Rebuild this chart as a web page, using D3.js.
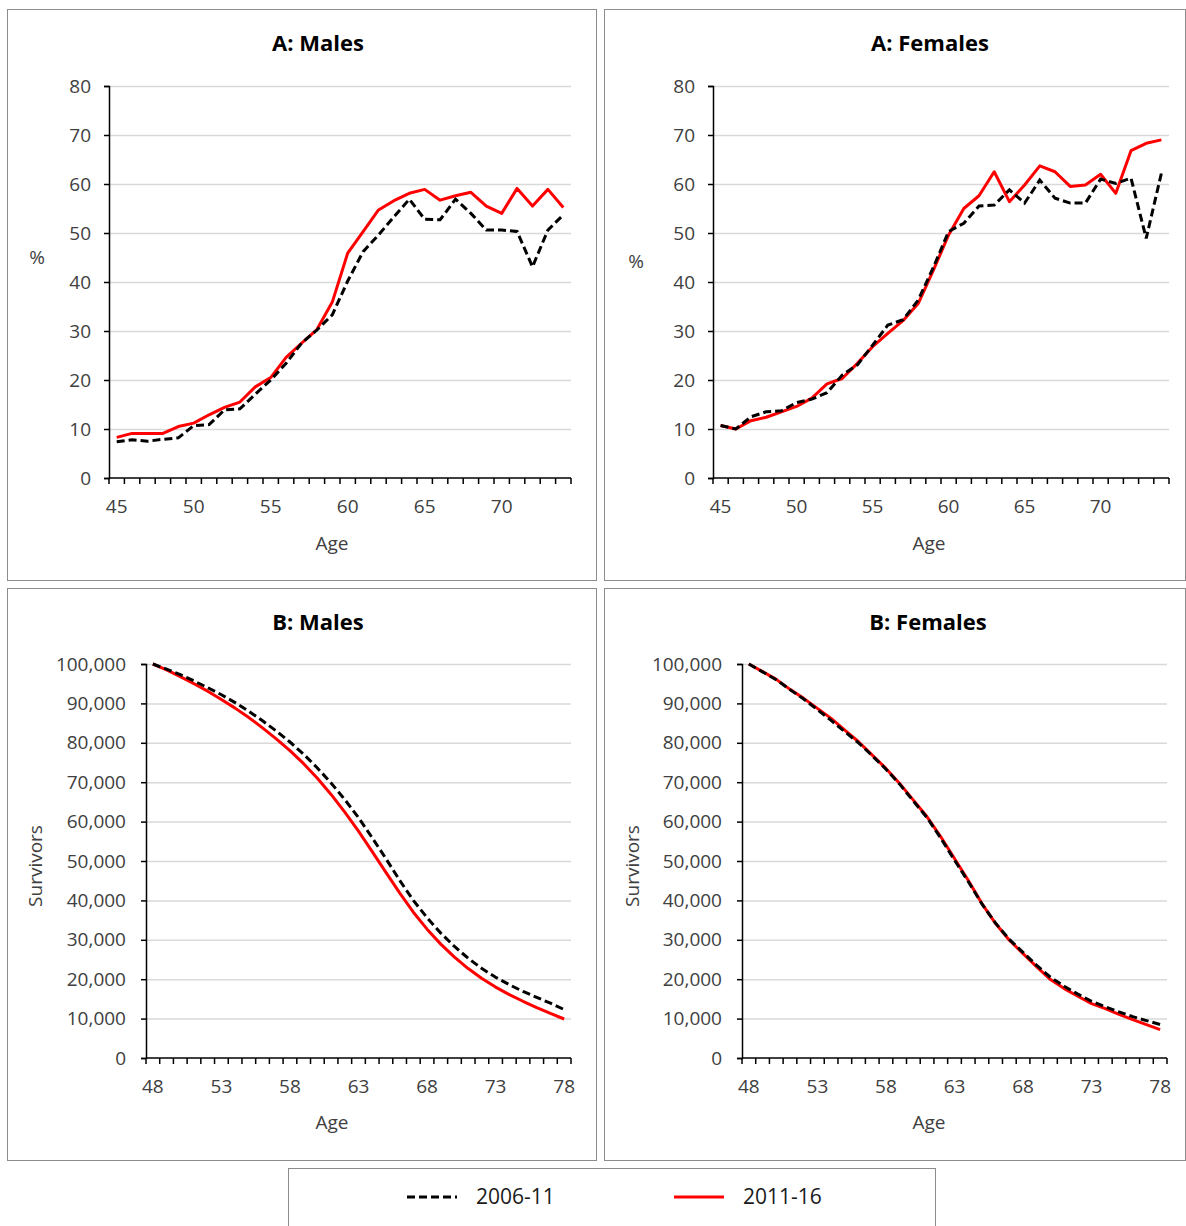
<!DOCTYPE html>
<html>
<head>
<meta charset="utf-8">
<script src="https://cdn.jsdelivr.net/npm/d3@7"></script>
<style>
  body { margin: 0; background: #fff; }
  svg { display: block; font-family: "Open Sans", sans-serif; }
</style>
</head>
<body>
<svg id="chart" width="1186" height="1226"></svg>
<script>
// categories
var agesA = [45,46,47,48,49,50,51,52,53,54,55,56,57,58,59,60,61,62,63,64,65,66,67,68,69,70,71,72,73,74];
var agesB = [48,49,50,51,52,53,54,55,56,57,58,59,60,61,62,63,64,65,66,67,68,69,70,71,72,73,74,75,76,77,78];
var labelsA = [45,50,55,60,65,70];
var labelsB = [48,53,58,63,68,73,78];
var ticksA = [0,10,20,30,40,50,60,70,80];
var ticksB = [0,10000,20000,30000,40000,50000,60000,70000,80000,90000,100000];

// panel A: %
var malesA0611 = [7.4,7.8,7.5,7.9,8.2,10.7,10.9,13.9,14.1,17.1,20.0,23.4,27.5,30.2,33.3,40.2,46.2,49.6,53.3,56.9,52.8,52.7,56.9,54.0,50.6,50.6,50.3,43.1,50.6,53.7];
var malesA1116 = [8.3,9.1,9.1,9.1,10.5,11.2,12.9,14.4,15.5,18.6,20.5,24.6,27.5,30.3,35.9,45.9,50.3,54.7,56.6,58.1,58.9,56.7,57.6,58.3,55.5,54.0,59.1,55.5,58.9,55.2];
var femalesA0611 = [10.7,10.0,12.5,13.5,13.7,15.4,16.1,17.4,21.0,23.1,27.1,31.2,32.3,36.3,43.0,50.3,52.0,55.5,55.7,58.8,56.1,60.8,57.1,56.1,56.1,61.0,60.1,61.2,48.9,62.2];
var femalesA1116 = [10.7,10.0,11.7,12.4,13.5,14.6,16.3,19.2,20.3,23.4,26.8,29.5,32.1,35.6,42.4,49.6,55.0,57.6,62.5,56.4,59.8,63.7,62.5,59.5,59.8,62.0,58.1,66.8,68.3,69.0];

// panel B: survivors
var malesB0611 = [100000,98700,97300,95700,94000,92200,90200,88000,85600,83000,80200,77100,73600,69800,65600,61000,55900,50600,45100,40000,35600,31700,28300,25300,22700,20500,18600,16900,15400,13900,12300];
var malesB1116 = [100000,98500,96800,95000,93100,91000,88800,86400,83800,81000,78000,74700,71000,66900,62400,57600,52400,47100,41900,37000,32700,28900,25600,22700,20200,18000,16100,14400,12800,11300,9900];
var femalesB0611 = [100000,98000,96000,93500,91100,88400,85700,82800,80000,76700,73300,69500,65200,61000,55800,50200,44800,39100,34200,30100,26800,23500,20500,18200,16200,14400,13000,11700,10500,9500,8500];
var femalesB1116 = [100000,98050,96100,93560,91280,88740,86200,83230,80270,76880,73500,69690,65450,61220,56140,50630,45130,39200,34120,29890,26500,23120,19900,17610,15660,13800,12530,11090,9740,8470,7200];

var seriesNames = ["2006-11", "2011-16"];

var svg = d3.select("#chart");
var textColor = "#404040";

var panels = [
  { box: [7, 9, 589, 571], x0: 109, x1: 571, yb: 478, yt: 86, cats: agesA, labels: labelsA, ticks: ticksA,
    a: malesA0611, b: malesA1116, fmt: d3.format("d"), title: "A: Males", ylab: "%", rot: false,
    tx: 318, ty: 43, lx: 37, ly: 257, ax: 332, ay: 543, pad: 13 },
  { box: [604, 9, 581, 571], x0: 713, x1: 1169, yb: 478, yt: 86, cats: agesA, labels: labelsA, ticks: ticksA,
    a: femalesA0611, b: femalesA1116, fmt: d3.format("d"), title: "A: Females", ylab: "%", rot: false,
    tx: 930, ty: 43, lx: 636, ly: 261, ax: 929, ay: 543, pad: 13 },
  { box: [7, 588, 589, 572], x0: 146, x1: 571, yb: 1058, yt: 664, cats: agesB, labels: labelsB, ticks: ticksB,
    a: malesB0611, b: malesB1116, fmt: d3.format(","), title: "B: Males", ylab: "Survivors", rot: true,
    tx: 318, ty: 622, lx: 35, ly: 866, ax: 332, ay: 1122, pad: 15 },
  { box: [604, 588, 581, 572], x0: 742, x1: 1167, yb: 1058, yt: 664, cats: agesB, labels: labelsB, ticks: ticksB,
    a: femalesB0611, b: femalesB1116, fmt: d3.format(","), title: "B: Females", ylab: "Survivors", rot: true,
    tx: 928, ty: 622, lx: 632, ly: 866, ax: 929, ay: 1122, pad: 15 }
];

panels.forEach(function(p) {
  var g = svg.append("g");

  g.append("rect")
    .attr("x", p.box[0] + 0.5).attr("y", p.box[1] + 0.5)
    .attr("width", p.box[2]).attr("height", p.box[3])
    .attr("fill", "#fff").attr("stroke", "#8c8c8c");

  var x = d3.scaleBand().domain(p.cats).range([p.x0, p.x1]);
  var y = d3.scaleLinear()
    .domain([0, d3.max(p.ticks)])
    .range([p.yb, p.yt]);

  // gridlines
  g.append("g")
    .attr("transform", "translate(" + p.x0 + ",0)")
    .call(d3.axisLeft(y).tickValues(p.ticks.slice(1)).tickSize(-(p.x1 - p.x0)).tickFormat(""))
    .call(function(s) { s.select(".domain").remove(); })
    .selectAll("line").attr("stroke", "#d9d9d9").attr("stroke-width", 1.5);

  // y axis
  var yAxis = g.append("g")
    .attr("transform", "translate(" + p.x0 + ",0)")
    .call(d3.axisLeft(y).tickValues(p.ticks).tickSize(5).tickPadding(p.pad).tickFormat(p.fmt));
  yAxis.select(".domain").attr("stroke", "#000").attr("stroke-width", 1.5);
  yAxis.selectAll("line").attr("stroke", "#000").attr("stroke-width", 1.5);
  yAxis.selectAll("text").attr("fill", textColor).style("font-size", "19px")
    .style("font-family", "Open Sans, sans-serif");

  // x axis labels (every 5th age)
  var xAxis = g.append("g")
    .attr("transform", "translate(0," + p.yb + ")")
    .call(d3.axisBottom(x).tickValues(p.labels).tickSize(0).tickPadding(22));
  xAxis.select(".domain").remove();
  xAxis.selectAll("text").attr("fill", textColor).style("font-size", "19px")
    .style("font-family", "Open Sans, sans-serif");

  // x axis line + tick marks between categories
  var edges = p.cats.map(function(c) { return x(c); }).concat([p.x1]);
  g.append("line")
    .attr("x1", p.x0).attr("x2", p.x1).attr("y1", p.yb).attr("y2", p.yb)
    .attr("stroke", "#000").attr("stroke-width", 1.5);
  g.selectAll(".xt").data(edges).enter().append("line")
    .attr("x1", function(d) { return d; }).attr("x2", function(d) { return d; })
    .attr("y1", p.yb).attr("y2", p.yb + 6)
    .attr("stroke", "#000").attr("stroke-width", 1.5);

  var line = d3.line()
    .x(function(d, i) { return x(p.cats[i]) + x.bandwidth() / 2; })
    .y(function(d) { return y(d); });

  g.append("path").datum(p.b)
    .attr("d", line).attr("fill", "none")
    .attr("stroke", "#ff0000").attr("stroke-width", 3).attr("stroke-linejoin", "round");

  g.append("path").datum(p.a)
    .attr("d", line).attr("fill", "none")
    .attr("stroke", "#000").attr("stroke-width", 3).attr("stroke-dasharray", "8,4");

  // titles
  g.append("text")
    .attr("x", p.tx).attr("y", p.ty).attr("dy", "0.35em")
    .attr("text-anchor", "middle")
    .style("font-size", "22px").style("font-weight", "bold").attr("fill", "#000")
    .text(p.title);

  g.append("text")
    .attr("x", p.ax).attr("y", p.ay).attr("dy", "0.35em")
    .attr("text-anchor", "middle")
    .style("font-size", "19px").attr("fill", textColor)
    .text("Age");

  var yl = g.append("text")
    .attr("text-anchor", "middle")
    .style("font-size", "19px").attr("fill", textColor)
    .text(p.ylab);
  if (p.rot) {
    yl.attr("transform", "translate(" + p.lx + "," + p.ly + ") rotate(-90)").attr("dy", "0.35em");
  } else {
    yl.attr("x", p.lx).attr("y", p.ly).attr("dy", "0.35em");
  }
});

// legend
var legend = svg.append("g");
legend.append("rect")
  .attr("x", 288.5).attr("y", 1168.5).attr("width", 647).attr("height", 80)
  .attr("fill", "#fff").attr("stroke", "#8c8c8c");

var legendItems = [
  { name: seriesNames[0], x: 407, color: "#000", dash: "8,4" },
  { name: seriesNames[1], x: 674, color: "#ff0000", dash: null }
];
legendItems.forEach(function(d) {
  legend.append("line")
    .attr("x1", d.x).attr("x2", d.x + 50).attr("y1", 1197).attr("y2", 1197)
    .attr("stroke", d.color).attr("stroke-width", 3)
    .attr("stroke-dasharray", d.dash);
  legend.append("text")
    .attr("x", d.x + 69).attr("y", 1197).attr("dy", "0.35em")
    .style("font-size", "21px").attr("fill", "#1a1a1a")
    .text(d.name);
});
</script>
</body>
</html>
